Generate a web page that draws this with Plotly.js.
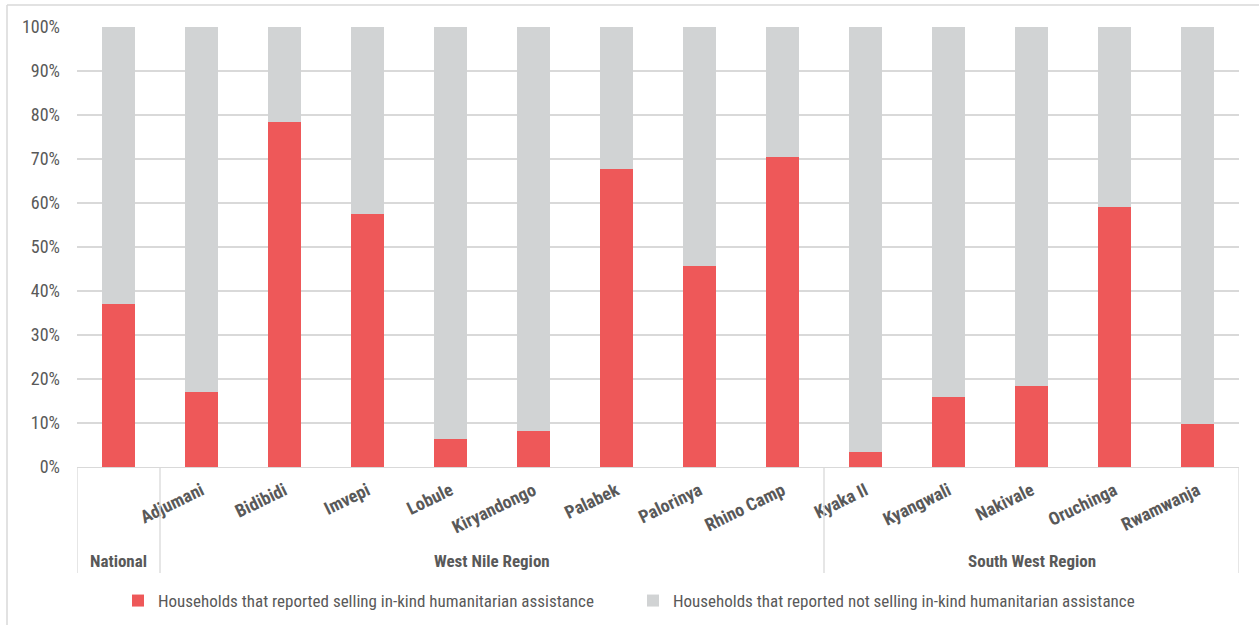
<!DOCTYPE html>
<html>
<head>
<meta charset="utf-8">
<script src="https://cdn.plot.ly/plotly-3.0.1.min.js"></script>
<style>
  html, body { margin: 0; padding: 0; background: #fff; }
  #chart { width: 1259px; height: 625px; }
</style>
</head>
<body>
<div id="chart"></div>
<script>
// Settlements (National average first), grouped by region
const categories = ["National", "Adjumani", "Bidibidi", "Imvepi", "Lobule", "Kiryandongo",
  "Palabek", "Palorinya", "Rhino Camp", "Kyaka II", "Kyangwali", "Nakivale", "Oruchinga", "Rwamwanja"];
const tickLabels = ["", "Adjumani", "Bidibidi", "Imvepi", "Lobule", "Kiryandongo",
  "Palabek", "Palorinya", "Rhino Camp", "Kyaka II", "Kyangwali", "Nakivale", "Oruchinga", "Rwamwanja"];

// Share of households that reported selling in-kind assistance
const selling = [0.37, 0.17, 0.783, 0.576, 0.063, 0.081, 0.677, 0.456, 0.705,
  0.033, 0.159, 0.184, 0.592, 0.097];
// Remaining share (not selling)
const notSelling = selling.map(v => 1 - v);

// Region groups: label and first/last category index
const groupLabels = ["National", "West Nile Region", "South West Region"];
const groupStart = [0, 1, 9];
const groupEnd = [0, 8, 13];

const yTickVals = [0, 0.1, 0.2, 0.3, 0.4, 0.5, 0.6, 0.7, 0.8, 0.9, 1.0];

const FONT = '"Liberation Sans Narrow", "Arial Narrow", "Roboto Condensed", Roboto, sans-serif';
const TEXT = '#595959';
const LINE = '#d9d9d9';

const traces = [
  {
    type: 'bar', name: 'Households that reported selling in-kind humanitarian assistance',
    x: categories, y: selling,
    marker: { color: '#ee5859' }, hoverinfo: 'x+y'
  },
  {
    type: 'bar', name: 'Households that reported not selling in-kind humanitarian assistance',
    x: categories, y: notSelling,
    marker: { color: '#d1d3d4' }, hoverinfo: 'x+y'
  }
];

// Plot area geometry in pixels (used to place below-axis elements in paper units)
const W = 1259, H = 625;
const mL = 77, mR = 20, mT = 27, mB = 158;
const plotH = H - mT - mB;
const plotW = W - mL - mR;
const pyFromPx = px => (H - mB - px) / plotH;
const pxToPaperX = px => (px - mL) / plotW;

const shapes = [];
// Group dividers below the axis
const dividerPos = [-0.5, 0.5, 8.5, 13.5];
dividerPos.forEach(xv => {
  shapes.push({
    type: 'line', xref: 'x', yref: 'paper',
    x0: xv, x1: xv, y0: 0, y1: pyFromPx(573),
    line: { color: LINE, width: 1.3 }
  });
});
// Frame lines along the top and left edges
shapes.push({
  type: 'line', xref: 'paper', yref: 'paper',
  x0: pxToPaperX(7), x1: pxToPaperX(1259), y0: pyFromPx(5), y1: pyFromPx(5),
  line: { color: LINE, width: 1.5 }
});
shapes.push({
  type: 'line', xref: 'paper', yref: 'paper',
  x0: pxToPaperX(7), x1: pxToPaperX(7), y0: pyFromPx(5), y1: pyFromPx(625),
  line: { color: LINE, width: 1.5 }
});

const annotations = groupLabels.map((g, i) => ({
  text: '<b>' + g + '</b>',
  x: (groupStart[i] + groupEnd[i]) / 2, xref: 'x',
  y: pyFromPx(561), yref: 'paper', yanchor: 'middle', xanchor: 'center',
  showarrow: false,
  font: { family: FONT, size: 17, color: TEXT }
}));

const layout = {
  width: W, height: H,
  margin: { l: mL, r: mR, t: mT, b: mB, autoexpand: false },
  paper_bgcolor: '#fff', plot_bgcolor: '#fff',
  barmode: 'stack',
  bargap: 0.6,
  showlegend: true,
  legend: {
    orientation: 'h', x: pxToPaperX(118), xanchor: 'left',
    y: pyFromPx(601), yanchor: 'middle',
    font: { family: FONT, size: 17, color: TEXT },
    traceorder: 'normal',
    entrywidth: 470
  },
  xaxis: {
    type: 'category',
    range: [-0.5, 13.5],
    tickvals: categories, ticktext: tickLabels,
    tickangle: -26,
    tickfont: { family: FONT, size: 18, color: TEXT, weight: 'bold' },
    showgrid: false, showline: true, linecolor: LINE, linewidth: 1.3,
    ticks: '', zeroline: false, automargin: false,
    ticklabelstandoff: 5
  },
  yaxis: {
    range: [0, 1],
    tickvals: yTickVals, tickformat: '.0%',
    tickfont: { family: FONT, size: 18, color: TEXT },
    showgrid: true, gridcolor: LINE, gridwidth: 1.3,
    zeroline: false, showline: false, ticks: '',
    ticklabelstandoff: 16, automargin: false
  },
  shapes: shapes,
  annotations: annotations
};

Plotly.newPlot('chart', traces, layout, { displayModeBar: false, staticPlot: true });
</script>
</body>
</html>
